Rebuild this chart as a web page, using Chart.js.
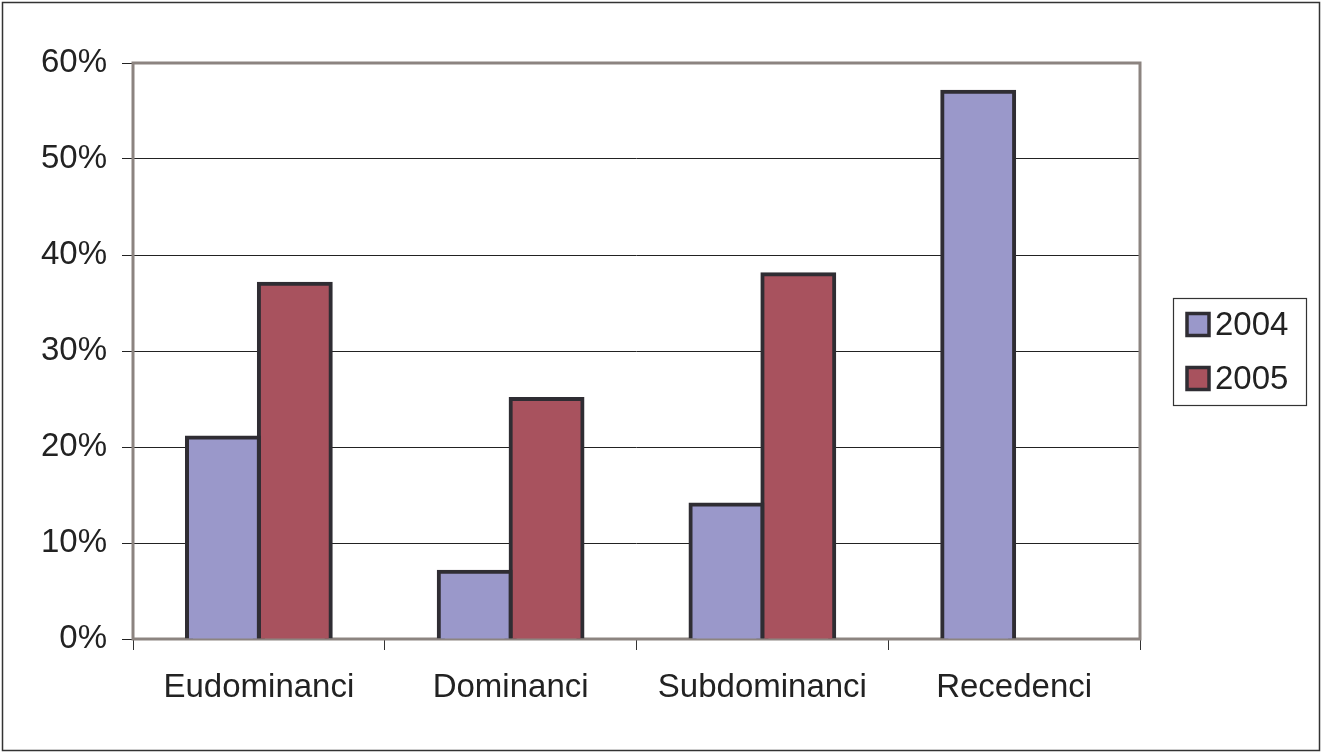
<!DOCTYPE html>
<html>
<head>
<meta charset="utf-8">
<script src="https://cdn.jsdelivr.net/npm/chart.js@4"></script>
<style>
html,body{margin:0;padding:0;background:#fff;}
#wrap{width:1322px;height:754px;position:relative;}
</style>
</head>
<body>
<div id="wrap"><canvas id="c" width="1322" height="754"></canvas></div>
<script>
const categories = ["Eudominanci", "Dominanci", "Subdominanci", "Recedenci"];
const seriesNames = ["2004", "2005"];
const values2004 = [21, 7, 14, 57];
const values2005 = [37, 25, 38, null];
const yTicks = [0, 10, 20, 30, 40, 50, 60];

const FONT = "'Liberation Sans', Arial, Helvetica, sans-serif";
const colors = ["#9a98ca", "#a8525e"];
const barBorder = "#2f2d33";

const framePlugin = {
  id: 'frame',
  beforeDatasetsDraw(chart) {
    const ctx = chart.ctx, a = chart.chartArea;
    ctx.save();
    ctx.strokeStyle = '#8c8480';
    ctx.lineWidth = 3;
    ctx.strokeRect(a.left, a.top, a.right - a.left, a.bottom - a.top);
    ctx.restore();
  },
  afterDraw(chart) {
    const ctx = chart.ctx;
    ctx.save();
    // outer frame
    ctx.strokeStyle = '#333';
    ctx.lineWidth = 1.5;
    ctx.strokeRect(2.5, 2.5, 1317, 748);
    // legend
    ctx.lineWidth = 1.2;
    ctx.strokeStyle = '#333';
    ctx.strokeRect(1173.5, 298.5, 133, 107);
    const rows = [324.5, 378.5];
    chart.data.datasets.forEach((ds, i) => {
      const cy = rows[i];
      ctx.fillStyle = ds.backgroundColor;
      ctx.fillRect(1186, cy - 12, 24, 24);
      ctx.strokeStyle = barBorder;
      ctx.lineWidth = 3.5;
      ctx.strokeRect(1187, cy - 11, 22, 22);
      ctx.fillStyle = '#222';
      ctx.font = '33px ' + FONT;
      ctx.textBaseline = 'middle';
      ctx.textAlign = 'left';
      ctx.fillText(ds.label, 1215, cy + 1);
    });
    ctx.restore();
  }
};

new Chart(document.getElementById('c'), {
  type: 'bar',
  data: {
    labels: categories,
    datasets: [
      { label: seriesNames[0], data: values2004, backgroundColor: colors[0], borderColor: barBorder, borderWidth: 4, inflateAmount: 2 },
      { label: seriesNames[1], data: values2005, backgroundColor: colors[1], borderColor: barBorder, borderWidth: 4, inflateAmount: 2 }
    ]
  },
  options: {
    responsive: false,
    animation: false,
    devicePixelRatio: 1,
    layout: { padding: { left: 0, right: 182, top: 63, bottom: 0 } },
    datasets: { bar: { categoryPercentage: 0.571, barPercentage: 1.0 } },
    plugins: { legend: { display: false }, tooltip: { enabled: false } },
    scales: {
      x: {
        grid: { offset: true, drawOnChartArea: false, drawTicks: true, tickLength: 11, color: '#333', lineWidth: 1 },
        border: { display: false },
        ticks: { color: '#222', font: { family: FONT, size: 33 }, padding: 18, maxRotation: 0 },
        afterFit(s) { s.height = 115; }
      },
      y: {
        min: 0, max: 60,
        afterBuildTicks(s) { s.ticks = yTicks.map(v => ({ value: v })); },
        grid: { color: '#222', lineWidth: 1, drawTicks: true, tickLength: 11 },
        border: { display: false },
        ticks: { color: '#222', font: { family: FONT, size: 33 }, padding: 15, callback: v => v + '%' },
        afterFit(s) { s.width = 133; }
      }
    }
  },
  plugins: [framePlugin]
});
</script>
</body>
</html>
